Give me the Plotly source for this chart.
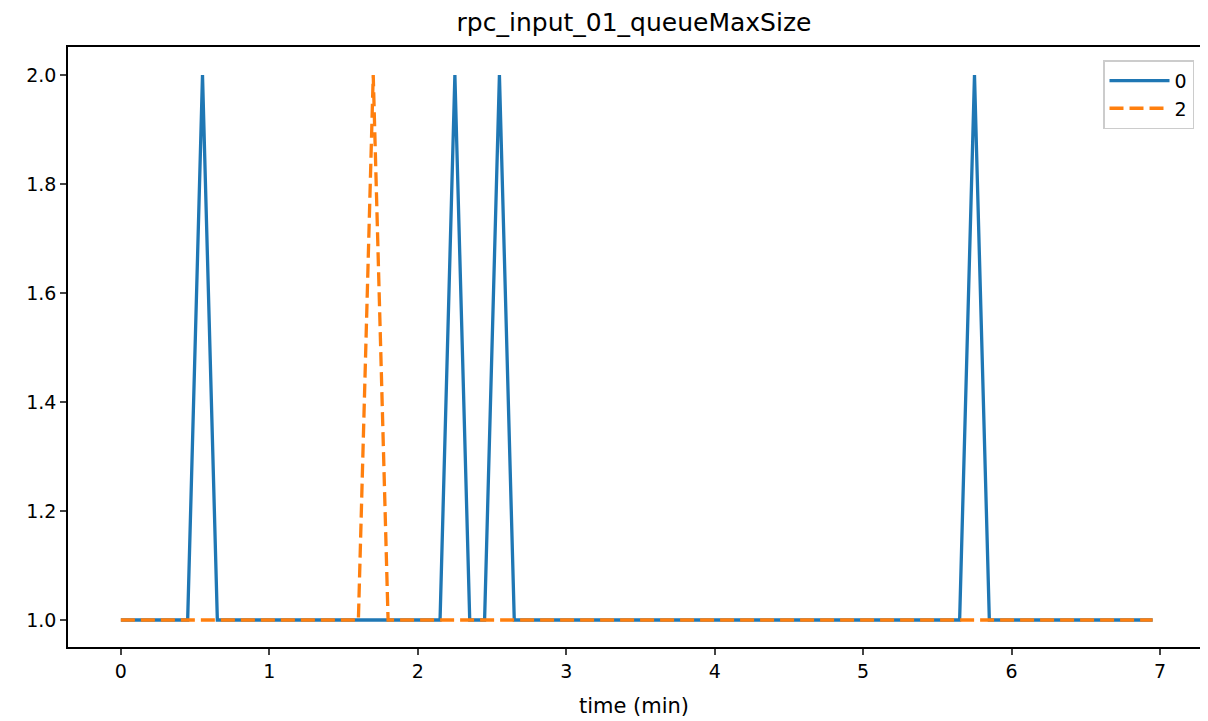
import plotly.graph_objects as go

# data
t0 = [0, 0.45, 0.55, 0.65, 2.15, 2.25, 2.35, 2.45, 2.55, 2.65, 5.65, 5.75, 5.85, 6.95]
v0 = [1, 1, 2, 1, 1, 2, 1, 1, 2, 1, 1, 2, 1, 1]
t2 = [0, 1.6, 1.7, 1.8, 6.95]
v2 = [1, 1, 2, 1, 1]
xticks = [0, 1, 2, 3, 4, 5, 6, 7]
yticks = [1.0, 1.2, 1.4, 1.6, 1.8, 2.0]

fig = go.Figure()
fig.add_trace(go.Scatter(x=t0, y=v0, mode="lines", name="0",
                         line=dict(color="#1f77b4", width=3.3)))
fig.add_trace(go.Scatter(x=t2, y=v2, mode="lines", name="2",
                         line=dict(color="#ff7f0e", width=3.3, dash="14px,6px")))

font = "DejaVu Sans"
W, H = 1200, 713  # page body has an 8px margin
fig.update_layout(
    width=W, height=H,
    margin=dict(l=60, r=6, t=39, b=74, pad=0),
    paper_bgcolor="white", plot_bgcolor="white",
    font=dict(family=font, size=19, color="black"),
    title=dict(text="rpc_input_01_queueMaxSize", x=0.5, xref="paper", xanchor="center",
               y=1 - 14 / H, yanchor="middle", font=dict(size=25)),
    showlegend=True,
    legend=dict(x=0.9947, y=0.978, xanchor="right", yanchor="top",
                bordercolor="#cccccc", borderwidth=1.5, bgcolor="white",
                itemwidth=60, font=dict(size=19)),
    xaxis=dict(range=[-0.356, 7.269], tickvals=xticks, ticktext=[str(v) for v in xticks],
               showgrid=False, zeroline=False, showline=True, linecolor="black",
               linewidth=1.5, mirror=True, ticks="outside", ticklen=6, tickwidth=1.5,
               tickfont=dict(size=19),
               title=dict(text="time (min)", font=dict(size=21), standoff=18)),
    yaxis=dict(range=[0.9505, 2.0514], tickvals=yticks, ticktext=[f"{v:.1f}" for v in yticks],
               showgrid=False, zeroline=False, showline=True, linecolor="black",
               linewidth=1.5, mirror=True, ticks="outside", ticklen=6, tickwidth=1.5,
               tickfont=dict(size=19)),
)
fig.write_html("out.html")
